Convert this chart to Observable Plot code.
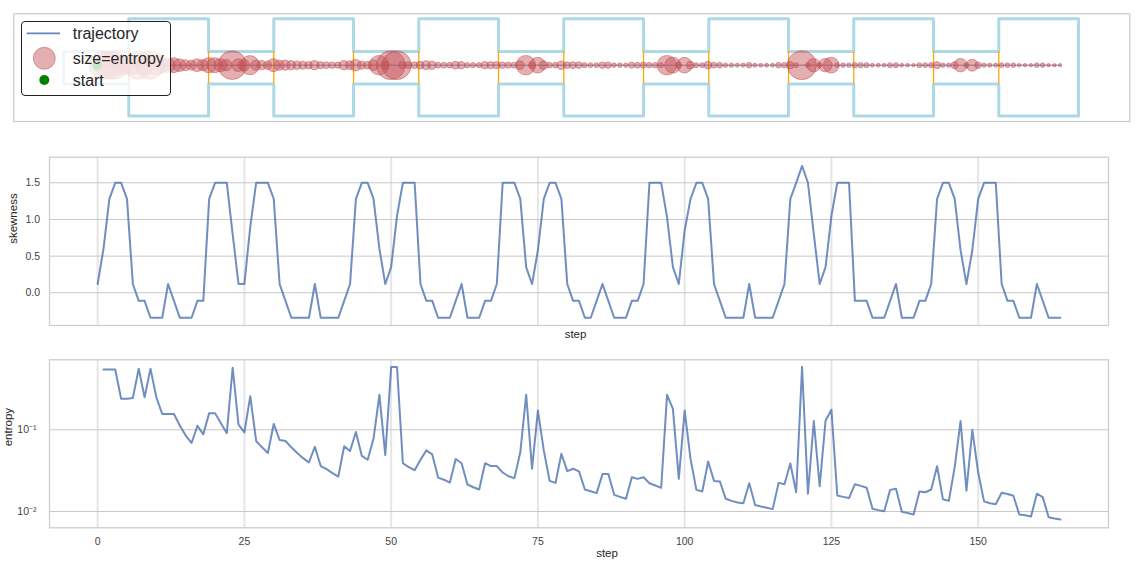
<!DOCTYPE html>
<html><head><meta charset="utf-8">
<script src="https://cdn.jsdelivr.net/npm/d3@7"></script>
<script src="https://cdn.jsdelivr.net/npm/@observablehq/plot@0.6"></script>
<style>
body{margin:0;background:#fff;font-family:"Liberation Sans",Arial,sans-serif;}
#wrap{position:relative;width:1142px;height:567px;overflow:hidden;background:#fff;}
.panel{position:absolute;left:0;}
#legend{position:absolute;left:21px;top:21px;width:148px;height:73px;border:1px solid #222;border-radius:4px;background:rgba(255,255,255,0.8);}
#legend svg{display:block;}
</style></head><body><div id="wrap"><div id="p1" class="panel" style="top:0"></div><div id="p2" class="panel" style="top:140px"></div><div id="p3" class="panel" style="top:345px"></div><div id="legend"></div></div>
<script>
// ---------------- data ----------------
const skewness = [0.12,0.6,1.28,1.5,1.5,1.28,0.12,-0.11,-0.11,-0.34,
-0.34,-0.34,0.12,-0.11,-0.34,-0.34,-0.34,-0.11,-0.11,1.28,
1.5,1.5,1.5,0.8,0.12,0.12,0.9,1.5,1.5,1.5,
1.28,0.12,-0.11,-0.34,-0.34,-0.34,-0.34,0.12,-0.34,-0.34,
-0.34,-0.34,-0.11,0.12,1.28,1.5,1.5,1.28,0.6,0.12,
0.35,1.05,1.5,1.5,1.5,0.12,-0.11,-0.11,-0.34,-0.34,
-0.34,-0.11,0.12,-0.34,-0.34,-0.34,-0.11,-0.11,0.12,1.5,
1.5,1.5,1.28,0.35,0.12,0.58,1.28,1.5,1.5,1.28,
0.12,-0.11,-0.11,-0.34,-0.34,-0.11,0.12,-0.11,-0.34,-0.34,
-0.34,-0.11,-0.11,0.12,1.5,1.5,1.5,1.03,0.35,0.12,
0.85,1.28,1.5,1.5,1.28,0.12,-0.11,-0.34,-0.34,-0.34,
-0.34,0.12,-0.34,-0.34,-0.34,-0.34,-0.11,0.12,1.28,1.5,
1.73,1.5,0.8,0.12,0.35,1.05,1.5,1.5,1.5,-0.11,
-0.11,-0.11,-0.34,-0.34,-0.34,-0.11,0.12,-0.34,-0.34,-0.34,
-0.11,-0.11,0.12,1.28,1.5,1.5,1.28,0.58,0.12,0.58,
1.28,1.5,1.5,1.5,0.12,-0.11,-0.11,-0.34,-0.34,-0.34,
0.12,-0.11,-0.34,-0.34,-0.34];
const skewFirstStep = 0;

const entropy = [0.548,0.548,0.548,0.24,0.24,0.245,0.56,0.25,0.56,0.25,
0.156,0.156,0.156,0.113,0.085,0.069,0.112,0.088,0.16,0.16,
0.12,0.091,0.575,0.116,0.093,0.258,0.073,0.061,0.052,0.118,
0.075,0.073,0.061,0.052,0.045,0.040,0.062,0.036,0.033,0.0295,
0.0268,0.063,0.055,0.094,0.048,0.043,0.078,0.268,0.049,0.585,
0.585,0.039,0.035,0.032,0.043,0.056,0.050,0.026,0.0245,0.0226,
0.044,0.039,0.0214,0.0198,0.0186,0.039,0.036,0.036,0.030,0.027,
0.0256,0.053,0.268,0.0334,0.172,0.056,0.0237,0.0224,0.051,0.0312,
0.0334,0.031,0.0186,0.0177,0.0168,0.0287,0.0287,0.016,0.0151,0.0143,
0.0263,0.0251,0.0263,0.0222,0.0208,0.0195,0.268,0.18,0.0251,0.172,
0.044,0.0184,0.0176,0.041,0.0237,0.0233,0.0143,0.0135,0.0129,0.0126,
0.0222,0.0120,0.0115,0.0111,0.0107,0.0224,0.0216,0.0387,0.0172,0.59,
0.0165,0.128,0.0204,0.129,0.176,0.0157,0.0151,0.0146,0.0216,0.0206,
0.0195,0.0108,0.0104,0.0101,0.0184,0.019,0.0099,0.0096,0.0092,0.0176,
0.0172,0.0186,0.0358,0.0141,0.0135,0.035,0.128,0.018,0.1,0.03,
0.0133,0.0126,0.0123,0.017,0.0164,0.0156,0.0092,0.009,0.0087,0.0165,
0.015,0.0085,0.0082,0.008];
const entropyFirstStep = 1;

// trajectory positions (channel coordinates)
const trajX = [-0.436,-0.355,-0.274,-0.193,-0.112,-0.031,0.050,0.131,0.212,0.293,
0.374,0.455,0.536,0.617,0.698,0.779,0.860,0.941,1.022,1.103,
1.184,1.265,1.346,1.427,1.508,1.589,1.670,1.751,1.832,1.913,
1.994,2.075,2.156,2.237,2.318,2.399,2.480,2.561,2.642,2.723,
2.804,2.885,2.966,3.047,3.128,3.209,3.290,3.371,3.452,3.533,
3.614,3.695,3.776,3.857,3.938,4.019,4.100,4.181,4.262,4.343,
4.424,4.505,4.586,4.667,4.748,4.829,4.910,4.991,5.072,5.153,
5.234,5.315,5.396,5.477,5.558,5.639,5.720,5.801,5.882,5.963,
6.044,6.125,6.206,6.287,6.368,6.449,6.530,6.611,6.692,6.773,
6.854,6.935,7.016,7.097,7.178,7.259,7.340,7.421,7.502,7.583,
7.664,7.745,7.826,7.907,7.988,8.069,8.150,8.231,8.312,8.393,
8.474,8.555,8.636,8.717,8.798,8.879,8.960,9.041,9.122,9.203,
9.284,9.365,9.446,9.527,9.608,9.689,9.770,9.851,9.932,10.013,
10.094,10.175,10.256,10.337,10.418,10.499,10.580,10.661,10.742,10.823,
10.904,10.985,11.066,11.147,11.228,11.309,11.390,11.471,11.552,11.633,
11.714,11.795,11.876,11.957,12.038,12.119,12.200,12.281,12.362,12.443,
12.524,12.605,12.686,12.767,12.848];
const trajY = 0;

// channel geometry
const inletStart = -0.9;
const chamberStart = [0, 2, 4, 6, 8, 10, 12];
const chamberEnd = [1.1, 3.1, 5.1, 7.1, 9.1, 11.1, 13.1];
const chamberTop = 0.64, chamberBottom = -0.70;
const passageTop = 0.19, passageBottom = -0.26;

// ticks
const stepTicks = [0, 25, 50, 75, 100, 125, 150];
const skewTicks = [0, 0.5, 1.0, 1.5];
const entropyTicks = [0.01, 0.1];
const entropyTickLabels = ["10\u207B\u00B2", "10\u207B\u00B9"];

// ---------------- styles ----------------
const FONT = "'Liberation Sans', Arial, sans-serif";
const BLUE = "#4C72B0", RED = "#C44E52";
const TICK = "#444", LABEL = "#262626";

(function () {
  // ---------------- top panel ----------------
  const n = chamberStart.length;
  const wall = [[inletStart, passageBottom], [inletStart, passageTop]];
  for (let i = 0; i < n; i++) {
    wall.push([chamberStart[i], passageTop], [chamberStart[i], chamberTop], [chamberEnd[i], chamberTop]);
    if (i < n - 1) wall.push([chamberEnd[i], passageTop]);
  }
  for (let i = n - 1; i >= 0; i--) {
    if (i < n - 1) wall.push([chamberEnd[i], passageBottom]);
    wall.push([chamberEnd[i], chamberBottom], [chamberStart[i], chamberBottom], [chamberStart[i], passageBottom]);
  }
  wall.push([inletStart, passageBottom]);
  const gates = chamberStart.concat(chamberEnd.slice(0, n - 1));

  const traj = trajX.map((x) => ({x, y: trajY}));
  const blobs = entropy.map((e, i) => ({x: trajX[i + entropyFirstStep], y: trajY, e}));

  const topPlot = Plot.plot({
    width: 1142, height: 135,
    marginLeft: 13.3, marginRight: 12.7, marginTop: 13.3, marginBottom: 14,
    style: {fontFamily: FONT, background: "transparent"},
    x: {domain: [-1.586, 13.807], axis: null},
    y: {domain: [-0.777, 0.709], axis: null},
    r: {type: "sqrt", domain: [0, 0.59], range: [0, 14.5]},
    marks: [
      Plot.frame({stroke: "#cccccc", strokeWidth: 1.25}),
      Plot.line(wall, {x: d => d[0], y: d => d[1], stroke: "#add8e6", strokeWidth: 3, strokeLinejoin: "round", strokeLinecap: "round"}),
      Plot.ruleX(gates, {x: d => d, y1: passageBottom, y2: passageTop, stroke: "orange", strokeWidth: 1.3}),
      Plot.line(traj, {x: "x", y: "y", stroke: BLUE, strokeWidth: 1, strokeOpacity: 0.85}),
      Plot.dot(blobs, {x: "x", y: "y", r: "e", fill: RED, fillOpacity: 0.45, stroke: RED, strokeOpacity: 0.5, strokeWidth: 1}),
      Plot.dot([traj[0]], {x: "x", y: "y", r: 5, fill: "green"})
    ]
  });
  document.getElementById("p1").appendChild(topPlot);

  // ---------------- middle panel ----------------
  const skewData = skewness.map((v, i) => ({step: i + skewFirstStep, v}));
  const midPlot = Plot.plot({
    width: 1142, height: 205,
    marginLeft: 49, marginRight: 34, marginTop: 16.7, marginBottom: 20,
    style: {fontFamily: FONT, background: "transparent"},
    x: {domain: [-8.2, 172.2], axis: null},
    y: {domain: [-0.446, 1.849], axis: null},
    marks: [
      Plot.ruleX(stepTicks, {stroke: "#e6e6e6", strokeWidth: 2}),
      Plot.ruleY(skewTicks, {stroke: "#c8c8c8", strokeWidth: 1}),
      Plot.frame({stroke: "#cccccc", strokeWidth: 1.25}),
      Plot.axisY(skewTicks, {tickSize: 0, tickPadding: 9.5, tickFormat: d3.format(".1f"), fontSize: 10.5, color: TICK, label: null}),
      Plot.text(["skewness"], {frameAnchor: "left", dx: -35.7, dy: 2.5, rotate: -90, fontSize: 11.5, fill: LABEL}),
      Plot.text(["step"], {frameAnchor: "bottom", dx: -3.5, dy: 12.7, fontSize: 11.5, fill: LABEL}),
      Plot.line(skewData, {x: "step", y: "v", stroke: BLUE, strokeWidth: 2, strokeOpacity: 0.8})
    ]
  });
  document.getElementById("p2").appendChild(midPlot);

  // ---------------- bottom panel ----------------
  const entData = entropy.map((v, i) => ({step: i + entropyFirstStep, v}));
  const botPlot = Plot.plot({
    width: 1142, height: 222,
    marginLeft: 49, marginRight: 34, marginTop: 14.3, marginBottom: 39.7,
    style: {fontFamily: FONT, background: "transparent"},
    x: {domain: [-8.2, 172.2], axis: null},
    y: {type: "log", domain: [0.006318, 0.7191], axis: null},
    marks: [
      Plot.ruleX(stepTicks, {stroke: "#e6e6e6", strokeWidth: 2}),
      Plot.ruleY(entropyTicks, {stroke: "#c8c8c8", strokeWidth: 1}),
      Plot.frame({stroke: "#cccccc", strokeWidth: 1.25}),
      Plot.axisY(entropyTicks, {tickSize: 0, tickPadding: 13, tickFormat: (d) => entropyTickLabels[entropyTicks.indexOf(d)], fontSize: 10.5, color: TICK, label: null}),
      Plot.axisX(stepTicks, {tickSize: 0, tickPadding: 10, fontSize: 10.5, color: TICK, label: null}),
      Plot.text(["entropy"], {frameAnchor: "left", dx: -41.5, dy: 2.5, rotate: -90, fontSize: 11.5, fill: LABEL}),
      Plot.text(["step"], {frameAnchor: "bottom", dx: 28, dy: 29.4, fontSize: 11.5, fill: LABEL}),
      Plot.line(entData, {x: "step", y: "v", stroke: BLUE, strokeWidth: 2, strokeOpacity: 0.8})
    ]
  });
  document.getElementById("p3").appendChild(botPlot);

  // ---------------- legend ----------------
  const legendItems = ["trajectory", "size=entropy", "start"];
  const lg = d3.select("#legend").append("svg").attr("width", 148).attr("height", 73);
  lg.append("line").attr("x1", 4.7).attr("x2", 38).attr("y1", 11.3).attr("y2", 11.3).attr("stroke", BLUE).attr("stroke-width", 1.8).attr("stroke-opacity", 0.85);
  lg.append("circle").attr("cx", 22.3).attr("cy", 36.3).attr("r", 11).attr("fill", RED).attr("fill-opacity", 0.45).attr("stroke", RED).attr("stroke-opacity", 0.5);
  lg.append("circle").attr("cx", 22.3).attr("cy", 58).attr("r", 5).attr("fill", "green");
  legendItems.forEach((t, i) => {
    lg.append("text").attr("x", 50.7).attr("y", [11.3, 36.3, 58][i]).attr("dominant-baseline", "central")
      .attr("font-family", FONT).attr("font-size", 16).attr("fill", LABEL).text(t);
  });
})();
</script></body></html>
